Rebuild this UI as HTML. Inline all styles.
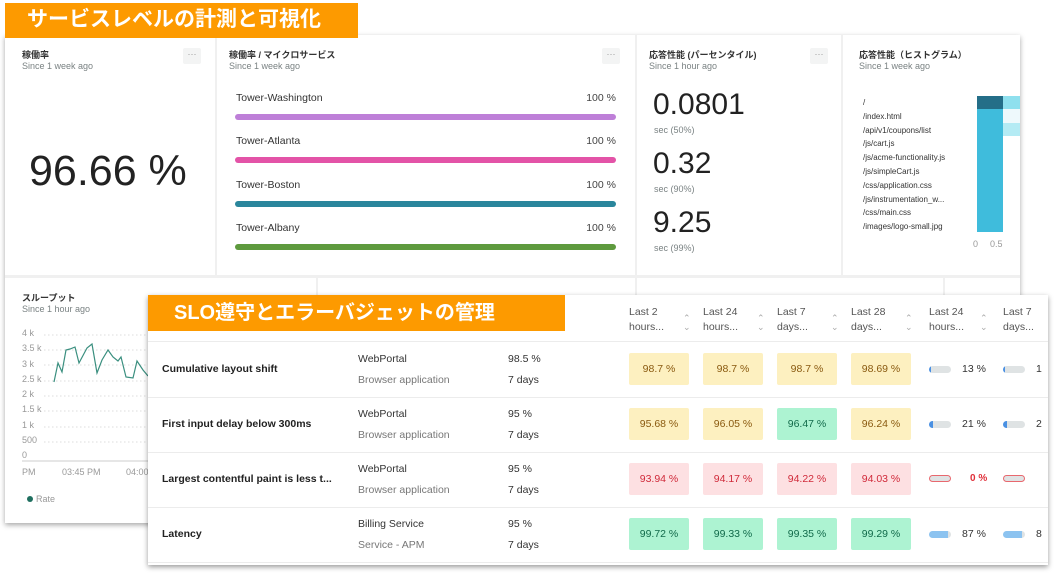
<!DOCTYPE html>
<html><head><meta charset="utf-8"><style>
*{margin:0;padding:0;box-sizing:border-box}
body{width:1060px;height:574px;background:#fff;position:relative;overflow:hidden;font-family:"Liberation Sans","Noto Sans CJK JP",sans-serif;color:#2a3434}
.a{position:absolute;white-space:nowrap}
.t{font-size:9px;font-weight:bold;color:#333}
.s{font-size:9px;color:#7a8283}
.dots{position:absolute;width:18px;height:16px;background:#f3f4f4;border-radius:2px;font-size:9px;color:#999;text-align:center;line-height:12px}
.bar{position:absolute;left:235px;width:381px;height:6px;border-radius:3px}
.lbl{font-size:10.5px;color:#333}
.pc{font-size:10.5px;color:#444;text-align:right;width:40px}
.big{font-size:30px;color:#222}
.pth{font-size:8px;color:#333}
.yl{font-size:9px;color:#999}
.pill{position:absolute;width:60px;height:32px;border-radius:2px;font-size:10.5px;text-align:center;line-height:32px}
.y{background:#fdf0c0;color:#8a5a10}.g{background:#adf3d2;color:#116a4a}.r{background:#fde0e2;color:#d02a3a}
.row{position:absolute;left:148px;width:900px;height:1px;background:#ececec}
.nm{font-size:10.5px;font-weight:bold;color:#222}
.sv{font-size:10.5px;color:#333}.sv2{font-size:10.5px;color:#777}
.hd{font-size:10.5px;color:#555;line-height:15px}
.ch{font-size:9px;color:#aaa;line-height:9px}
.mb{position:absolute;width:22px;height:7px;border-radius:4px;background:#dfe3e4}
</style></head><body>
<div class="a" style="left:5px;top:35px;width:1015px;height:488px;background:#fff;box-shadow:0 2px 5px rgba(0,0,0,.35)"></div>
<div class="a" style="left:215px;top:35px;width:2px;height:241px;background:#f0f0f0"></div>
<div class="a" style="left:635px;top:35px;width:2px;height:241px;background:#f0f0f0"></div>
<div class="a" style="left:841px;top:35px;width:2px;height:241px;background:#f0f0f0"></div>
<div class="a" style="left:5px;top:275px;width:1015px;height:3px;background:#f0f0f0"></div>
<div class="a" style="left:316px;top:278px;width:2px;height:20px;background:#f0f0f0"></div>
<div class="a" style="left:635px;top:278px;width:2px;height:20px;background:#f0f0f0"></div>
<div class="a" style="left:943px;top:278px;width:2px;height:20px;background:#f0f0f0"></div>
<div class="a" style="left:5px;top:3px;width:353px;height:35px;background:#fd9a00;color:#fff;font-size:21px;font-weight:bold;padding-left:22px;line-height:34px">サービスレベルの計測と可視化</div>
<div class="a t" style="left:22px;top:48px">稼働率</div>
<div class="a s" style="left:22px;top:61px">Since 1 week ago</div>
<div class="dots" style="left:183px;top:48px">···</div>
<div class="a" style="left:29px;top:147px;font-size:43px;color:#222">96.66 %</div>
<div class="a t" style="left:229px;top:48px">稼働率 / マイクロサービス</div>
<div class="a s" style="left:229px;top:61px">Since 1 week ago</div>
<div class="dots" style="left:602px;top:48px">···</div>
<div class="a lbl" style="left:236px;top:92px">Tower-Washington</div><div class="a pc" style="left:576px;top:92px">100 %</div>
<div class="bar" style="top:114px;background:#be7fd8"></div>
<div class="a lbl" style="left:236px;top:135px">Tower-Atlanta</div><div class="a pc" style="left:576px;top:135px">100 %</div>
<div class="bar" style="top:157px;background:#e353a7"></div>
<div class="a lbl" style="left:236px;top:179px">Tower-Boston</div><div class="a pc" style="left:576px;top:179px">100 %</div>
<div class="bar" style="top:201px;background:#2a869c"></div>
<div class="a lbl" style="left:236px;top:222px">Tower-Albany</div><div class="a pc" style="left:576px;top:222px">100 %</div>
<div class="bar" style="top:244px;background:#5e9a3e"></div>
<div class="a t" style="left:649px;top:48px">応答性能 (パーセンタイル)</div>
<div class="a s" style="left:649px;top:61px">Since 1 hour ago</div>
<div class="dots" style="left:810px;top:48px">···</div>
<div class="a big" style="left:653px;top:88px">0.0801</div><div class="a s" style="left:654px;top:125px">sec (50%)</div>
<div class="a big" style="left:653px;top:147px">0.32</div><div class="a s" style="left:654px;top:184px">sec (90%)</div>
<div class="a big" style="left:653px;top:206px">9.25</div><div class="a s" style="left:654px;top:243px">sec (99%)</div>
<div class="a t" style="left:859px;top:48px">応答性能（ヒストグラム）</div>
<div class="a s" style="left:859px;top:61px">Since 1 week ago</div>
<div class="a pth" style="left:863px;top:96px;line-height:13.8px">/<br>/index.html<br>/api/v1/coupons/list<br>/js/cart.js<br>/js/acme-functionality.js<br>/js/simpleCart.js<br>/css/application.css<br>/js/instrumentation_w...<br>/css/main.css<br>/images/logo-small.jpg</div>
<div class="a" style="left:977px;top:96px;width:26px;height:13px;background:#246e88"></div>
<div class="a" style="left:977px;top:109px;width:26px;height:123px;background:#3fbcdc"></div>
<div class="a" style="left:1003px;top:96px;width:17px;height:13px;background:#8fe0ee"></div>
<div class="a" style="left:1003px;top:109px;width:17px;height:14px;background:#eef9fc"></div>
<div class="a" style="left:1003px;top:123px;width:17px;height:13px;background:#b4ebf4"></div>
<div class="a yl" style="left:973px;top:239px">0</div><div class="a yl" style="left:990px;top:239px">0.5</div>
<div class="a t" style="left:22px;top:291px">スループット</div>
<div class="a s" style="left:22px;top:304px">Since 1 hour ago</div>
<svg class="a" style="left:0;top:0" width="150" height="574">
<g stroke="#ddd" stroke-dasharray="1.5 2.5" stroke-width="1">
<line x1="44" x2="150" y1="335" y2="335"/><line x1="44" x2="150" y1="350" y2="350"/><line x1="44" x2="150" y1="365" y2="365"/><line x1="44" x2="150" y1="381" y2="381"/><line x1="44" x2="150" y1="396" y2="396"/><line x1="44" x2="150" y1="411" y2="411"/><line x1="44" x2="150" y1="427" y2="427"/><line x1="44" x2="150" y1="442" y2="442"/></g>
<line x1="22" x2="150" y1="461" y2="461" stroke="#ccc"/>
<polyline fill="none" stroke="#3a8f7f" stroke-width="1.2" points="54,382 58,363 62,372 66,350 70,349 75,347 79,363 87,348 92,344 97,373 102,360 108,350 113,357 118,361 121,357 126,377 133,378 137,361 143,370 148,376"/>
<circle cx="30" cy="499" r="3" fill="#1f6f5f"/>
</svg>
<div class="a yl" style="left:22px;top:326px;line-height:15.3px">4 k<br>3.5 k<br>3 k<br>2.5 k<br>2 k<br>1.5 k<br>1 k<br>500<br>0</div>
<div class="a yl" style="left:22px;top:467px">PM</div>
<div class="a yl" style="left:62px;top:467px">03:45 PM</div>
<div class="a yl" style="left:126px;top:467px">04:00</div>
<div class="a yl" style="left:36px;top:494px">Rate</div>
<div class="a" style="left:148px;top:295px;width:900px;height:270px;background:#fff;box-shadow:0 2px 5px rgba(0,0,0,.4)"></div>
<div class="a" style="left:148px;top:295px;width:417px;height:36px;background:#fd9a00;color:#fff;font-size:20px;font-weight:bold;padding-left:26px;line-height:36px">SLO遵守とエラーバジェットの管理</div>
<div class="row" style="top:341px"></div><div class="row" style="top:397px"></div><div class="row" style="top:452px"></div><div class="row" style="top:507px"></div><div class="row" style="top:562px"></div>
<div class="a hd" style="left:629px;top:305px">Last 2<br>hours...</div><div class="a ch" style="left:683px;top:314px">⌃<br>⌄</div>
<div class="a hd" style="left:703px;top:305px">Last 24<br>hours...</div><div class="a ch" style="left:757px;top:314px">⌃<br>⌄</div>
<div class="a hd" style="left:777px;top:305px">Last 7<br>days...</div><div class="a ch" style="left:831px;top:314px">⌃<br>⌄</div>
<div class="a hd" style="left:851px;top:305px">Last 28<br>days...</div><div class="a ch" style="left:905px;top:314px">⌃<br>⌄</div>
<div class="a hd" style="left:929px;top:305px">Last 24<br>hours...</div><div class="a ch" style="left:980px;top:314px">⌃<br>⌄</div>
<div class="a hd" style="left:1003px;top:305px">Last 7<br>days...</div>
<div class="a nm" style="left:162px;top:363px">Cumulative layout shift</div>
<div class="a sv" style="left:358px;top:353px">WebPortal</div><div class="a sv2" style="left:358px;top:374px">Browser application</div>
<div class="a sv" style="left:508px;top:353px">98.5 %</div><div class="a sv" style="left:508px;top:374px">7 days</div>
<div class="pill y" style="left:629px;top:353px">98.7 %</div><div class="pill y" style="left:703px;top:353px">98.7 %</div><div class="pill y" style="left:777px;top:353px">98.7 %</div><div class="pill y" style="left:851px;top:353px">98.69 %</div>
<div class="mb" style="left:929px;top:366px;background:linear-gradient(90deg,#4a90e2 2px,#dfe3e4 2px)"></div><div class="a sv" style="left:962px;top:363px">13 %</div>
<div class="mb" style="left:1003px;top:366px;background:linear-gradient(90deg,#4a90e2 2px,#dfe3e4 2px)"></div><div class="a sv" style="left:1036px;top:363px">1</div>
<div class="a nm" style="left:162px;top:418px">First input delay below 300ms</div>
<div class="a sv" style="left:358px;top:408px">WebPortal</div><div class="a sv2" style="left:358px;top:429px">Browser application</div>
<div class="a sv" style="left:508px;top:408px">95 %</div><div class="a sv" style="left:508px;top:429px">7 days</div>
<div class="pill y" style="left:629px;top:408px">95.68 %</div><div class="pill y" style="left:703px;top:408px">96.05 %</div><div class="pill g" style="left:777px;top:408px">96.47 %</div><div class="pill y" style="left:851px;top:408px">96.24 %</div>
<div class="mb" style="left:929px;top:421px;background:linear-gradient(90deg,#4a90e2 4px,#dfe3e4 4px)"></div><div class="a sv" style="left:962px;top:418px">21 %</div>
<div class="mb" style="left:1003px;top:421px;background:linear-gradient(90deg,#4a90e2 4px,#dfe3e4 4px)"></div><div class="a sv" style="left:1036px;top:418px">2</div>
<div class="a nm" style="left:162px;top:473px">Largest contentful paint is less t...</div>
<div class="a sv" style="left:358px;top:463px">WebPortal</div><div class="a sv2" style="left:358px;top:484px">Browser application</div>
<div class="a sv" style="left:508px;top:463px">95 %</div><div class="a sv" style="left:508px;top:484px">7 days</div>
<div class="pill r" style="left:629px;top:463px">93.94 %</div><div class="pill r" style="left:703px;top:463px">94.17 %</div><div class="pill r" style="left:777px;top:463px">94.22 %</div><div class="pill r" style="left:851px;top:463px">94.03 %</div>
<div class="mb" style="left:929px;top:475px;border:1.5px solid #e8686e"></div><div class="a" style="left:970px;top:473px;font-size:10px;color:#e0303a;font-weight:bold">0 %</div>
<div class="mb" style="left:1003px;top:475px;border:1.5px solid #e8686e"></div>
<div class="a nm" style="left:162px;top:528px">Latency</div>
<div class="a sv" style="left:358px;top:518px">Billing Service</div><div class="a sv2" style="left:358px;top:539px">Service - APM</div>
<div class="a sv" style="left:508px;top:518px">95 %</div><div class="a sv" style="left:508px;top:539px">7 days</div>
<div class="pill g" style="left:629px;top:518px">99.72 %</div><div class="pill g" style="left:703px;top:518px">99.33 %</div><div class="pill g" style="left:777px;top:518px">99.35 %</div><div class="pill g" style="left:851px;top:518px">99.29 %</div>
<div class="mb" style="left:929px;top:531px;background:linear-gradient(90deg,#8cc3f0 19px,#dfe3e4 19px)"></div><div class="a sv" style="left:962px;top:528px">87 %</div>
<div class="mb" style="left:1003px;top:531px;background:linear-gradient(90deg,#8cc3f0 19px,#dfe3e4 19px)"></div><div class="a sv" style="left:1036px;top:528px">8</div>
</body></html>
